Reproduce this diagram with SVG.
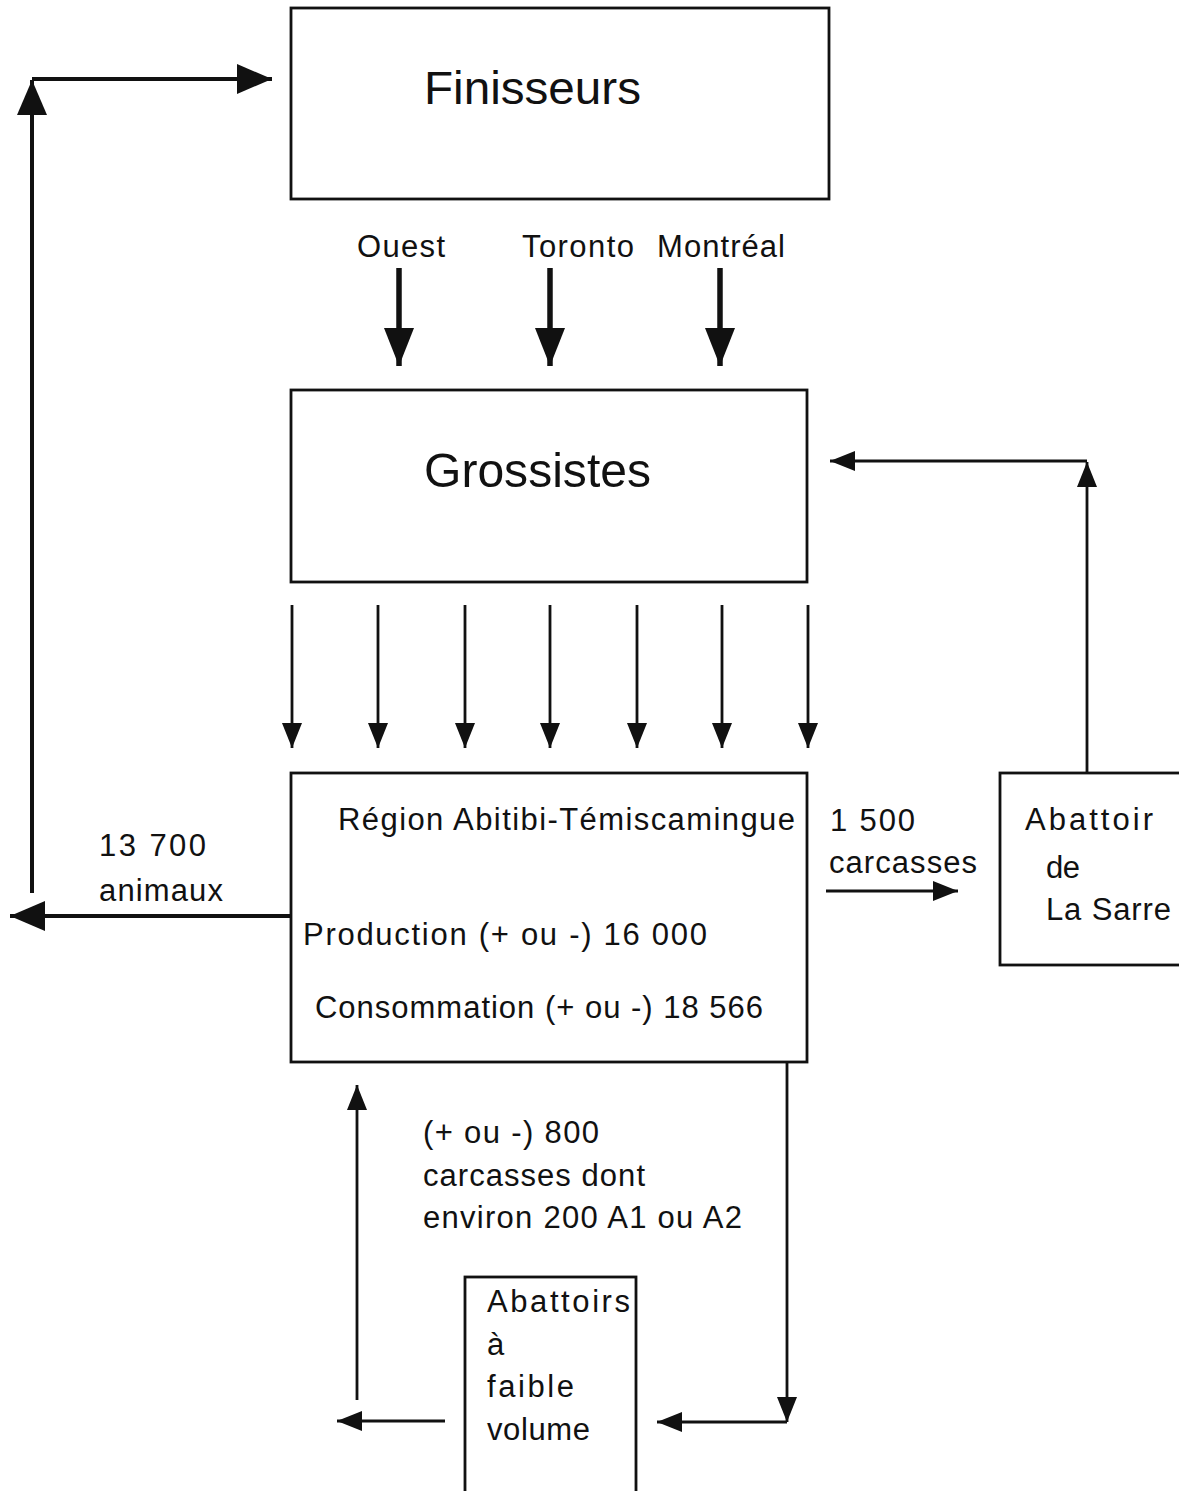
<svg xmlns="http://www.w3.org/2000/svg" width="1179" height="1491" viewBox="0 0 1179 1491">
<style>
.box{fill:none;stroke:#111;stroke-width:2.8}
.t{font-family:"Liberation Sans",Arial,sans-serif;fill:#111;font-size:31px}
.big{font-family:"Liberation Sans",Arial,sans-serif;fill:#111}
.heavy{stroke:#111;stroke-width:5.5;fill:none}
.med{stroke:#111;stroke-width:4;fill:none}
.thin{stroke:#111;stroke-width:2.8;fill:none}
</style>
<defs>
<marker id="hHeavy" markerUnits="userSpaceOnUse" markerWidth="38" markerHeight="30" viewBox="0 0 38 30" refX="38" refY="15" orient="auto"><path d="M0,0 L38,15 L0,30 z" fill="#111"/></marker>
<marker id="hMed" markerUnits="userSpaceOnUse" markerWidth="35" markerHeight="30" viewBox="0 0 35 30" refX="35" refY="15" orient="auto"><path d="M0,0 L35,15 L0,30 z" fill="#111"/></marker>
<marker id="hSmall" markerUnits="userSpaceOnUse" markerWidth="25" markerHeight="20" viewBox="0 0 25 20" refX="25" refY="10" orient="auto"><path d="M0,0 L25,10 L0,20 z" fill="#111"/></marker>
</defs>

<g id="finisseurs">
<rect class="box" x="291" y="8" width="538" height="191"/>
<text class="big" x="424" y="104" font-size="47" textLength="217" lengthAdjust="spacingAndGlyphs">Finisseurs</text>
</g>

<g id="grossistes">
<rect class="box" x="291" y="390" width="516" height="192"/>
<text class="big" x="424" y="487" font-size="48" textLength="227" lengthAdjust="spacingAndGlyphs">Grossistes</text>
</g>

<g id="region">
<rect class="box" x="291" y="773" width="516" height="289"/>
<text class="t" x="338" y="830" textLength="457" lengthAdjust="spacing">Région  Abitibi-Témiscamingue</text>
<text class="t" x="303" y="945" textLength="404" lengthAdjust="spacing">Production  (+  ou  -)  16  000</text>
<text class="t" x="315" y="1018" textLength="448" lengthAdjust="spacing">Consommation  (+  ou  -)  18  566</text>
</g>

<g id="abattoir-la-sarre">
<rect class="box" x="1000" y="773" width="190" height="192"/>
<text class="t" x="1025" y="830" textLength="128" lengthAdjust="spacing">Abattoir</text>
<text class="t" x="1046" y="878" textLength="34" lengthAdjust="spacing">de</text>
<text class="t" x="1046" y="920" textLength="125" lengthAdjust="spacing">La Sarre</text>
</g>

<g id="abattoirs-faible-volume">
<rect class="box" x="465" y="1277" width="171" height="240"/>
<text class="t" x="487" y="1312" textLength="143" lengthAdjust="spacing">Abattoirs</text>
<text class="t" x="487" y="1355">à</text>
<text class="t" x="487" y="1397" textLength="87" lengthAdjust="spacing">faible</text>
<text class="t" x="487" y="1440" textLength="103" lengthAdjust="spacing">volume</text>
</g>

<g id="labels">
<text class="t" x="357" y="257" textLength="88" lengthAdjust="spacing">Ouest</text>
<text class="t" x="522" y="257" textLength="112" lengthAdjust="spacing">Toronto</text>
<text class="t" x="657" y="257" textLength="128" lengthAdjust="spacing">Montréal</text>
<text class="t" x="99" y="856" textLength="107" lengthAdjust="spacing">13  700</text>
<text class="t" x="99" y="901" textLength="124" lengthAdjust="spacing">animaux</text>
<text class="t" x="830" y="831" textLength="85" lengthAdjust="spacing">1  500</text>
<text class="t" x="829" y="873" textLength="148" lengthAdjust="spacing">carcasses</text>
<text class="t" x="423" y="1143" textLength="176" lengthAdjust="spacing">(+ ou -) 800</text>
<text class="t" x="423" y="1186" textLength="222" lengthAdjust="spacing">carcasses dont</text>
<text class="t" x="423" y="1228" textLength="319" lengthAdjust="spacing">environ 200 A1 ou A2</text>
</g>

<g id="connectors">
<path class="heavy" d="M399,268 V366" marker-end="url(#hHeavy)"/>
<path class="heavy" d="M550,268 V366" marker-end="url(#hHeavy)"/>
<path class="heavy" d="M720,268 V366" marker-end="url(#hHeavy)"/>

<path class="thin" d="M292,605 V748" marker-end="url(#hSmall)"/>
<path class="thin" d="M378,605 V748" marker-end="url(#hSmall)"/>
<path class="thin" d="M465,605 V748" marker-end="url(#hSmall)"/>
<path class="thin" d="M550,605 V748" marker-end="url(#hSmall)"/>
<path class="thin" d="M637,605 V748" marker-end="url(#hSmall)"/>
<path class="thin" d="M722,605 V748" marker-end="url(#hSmall)"/>
<path class="thin" d="M808,605 V748" marker-end="url(#hSmall)"/>

<path class="med" d="M291,916 H10" marker-end="url(#hMed)"/>
<path class="med" d="M32,893 V80" marker-end="url(#hMed)"/>
<path class="med" d="M32,79 H272" marker-end="url(#hMed)"/>

<path class="thin" d="M1087,773 V462" marker-end="url(#hSmall)"/>
<path class="thin" d="M1087,461 H830" marker-end="url(#hSmall)"/>

<path class="thin" d="M826,891 H958" marker-end="url(#hSmall)"/>

<path class="thin" d="M787,1062 V1422" marker-end="url(#hSmall)"/>
<path class="thin" d="M787,1422 H657" marker-end="url(#hSmall)"/>
<path class="thin" d="M445,1421 H337" marker-end="url(#hSmall)"/>
<path class="thin" d="M357,1400 V1085" marker-end="url(#hSmall)"/>
</g>
</svg>
